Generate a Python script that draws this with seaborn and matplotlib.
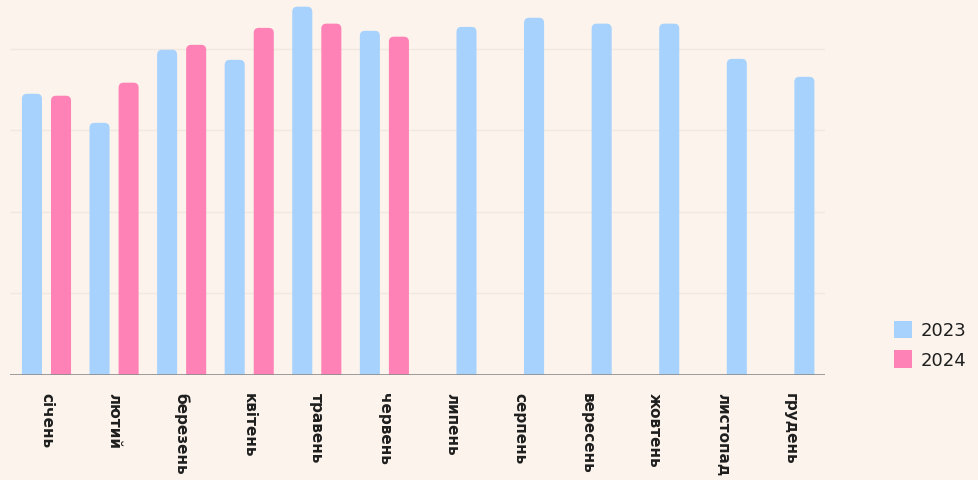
import numpy as np
import pandas as pd
import matplotlib.pyplot as plt
import seaborn as sns
from matplotlib.patches import FancyBboxPatch, Patch

# %% data
months = ['січень', 'лютий', 'березень', 'квітень', 'травень', 'червень',
          'липень', 'серпень', 'вересень', 'жовтень', 'листопад', 'грудень']
values_2023 = [86.2, 77.3, 99.7, 96.6, 112.9, 105.5,
               106.7, 109.5, 107.7, 107.7, 96.9, 91.4]
values_2024 = [85.6, 89.6, 101.2, 106.4, 107.7, 103.7]

blue = '#a7d2fd'
pink = '#ff82b6'
bg = '#fcf4ec'

# %% long table: 2023 sits in the first slot while 2024 exists, later it moves to the second slot
rows = []
for i, m in enumerate(months):
    if i < len(values_2024):
        rows.append((m, 'a', '2023', values_2023[i]))
        rows.append((m, 'b', '2024', values_2024[i]))
    else:
        rows.append((m, 'b', '2023', values_2023[i]))
df = pd.DataFrame(rows, columns=['month', 'slot', 'year', 'value'])

# %%
sns.set_style('white')
plt.rcParams['font.family'] = ['DejaVu Sans']
fig = plt.figure(figsize=(9.79, 4.81), dpi=100, facecolor=bg)
ax = fig.add_axes([0.0102, 0.2183, 0.8325, 0.78])
ax.set_facecolor(bg)

sns.barplot(data=df, x='month', y='value', hue='slot', hue_order=['a', 'b'],
            order=months, dodge=True, width=0.86, gap=0.31, ax=ax,
            legend=False, errorbar=None, saturation=1)

ax.set_ylim(0, 115)
ax.set_xlim(-0.54, 11.52)

# swap flat bars for rounded-top ones, coloured by year
lookup = {(r.month, r.slot): r.year for r in df.itertuples()}
slots = ['a', 'b']
fig.canvas.draw()
px_x = ax.transData.transform([(1, 0)])[0][0] - ax.transData.transform([(0, 0)])[0][0]
px_y = ax.transData.transform([(0, 1)])[0][1] - ax.transData.transform([(0, 0)])[0][1]
aspect = px_x / px_y
for si, cont in enumerate(ax.containers):
    for bar in cont.patches:
        h = bar.get_height()
        if np.isnan(h) or h == 0:
            bar.set_visible(False)
            continue
        idx = int(round(bar.get_x() + bar.get_width() / 2))
        year = lookup.get((months[idx], slots[si]))
        bar.set_visible(False)
        r = 0.075
        ax.add_patch(FancyBboxPatch((bar.get_x(), -r * aspect * 2), bar.get_width(),
                                    h + r * aspect * 2,
                                    boxstyle=f'round,pad=0,rounding_size={r}',
                                    mutation_aspect=aspect,
                                    fc=blue if year == '2023' else pink,
                                    ec='none', zorder=3))

for g in [25, 50, 75, 100]:
    ax.axhline(g, color='#f1e8df', lw=1, zorder=1)
ax.axhline(0, color='#8c8c8c', lw=1.2, zorder=4)

ax.set_yticks([])
ax.set_xlabel('')
ax.set_ylabel('')
ax.tick_params(axis='x', length=0, pad=12)
ax.set_xticks(range(len(months)))
ax.set_xticklabels(months, rotation=270, fontsize=11, fontweight='bold',
                   color='#1e1e1e', va='top', ha='center')
sns.despine(ax=ax, left=True, bottom=True)

handles = [Patch(fc=blue, ec='none'), Patch(fc=pink, ec='none')]
fig.legend(handles, ['2023', '2024'], loc='upper left', bbox_to_anchor=(0.897, 0.365),
           frameon=False, fontsize=13, handlelength=1.0, handleheight=1.1,
           handletextpad=0.45, labelspacing=0.6, labelcolor='#1e1e1e')

fig.savefig('out.png', dpi=100, facecolor=bg)
